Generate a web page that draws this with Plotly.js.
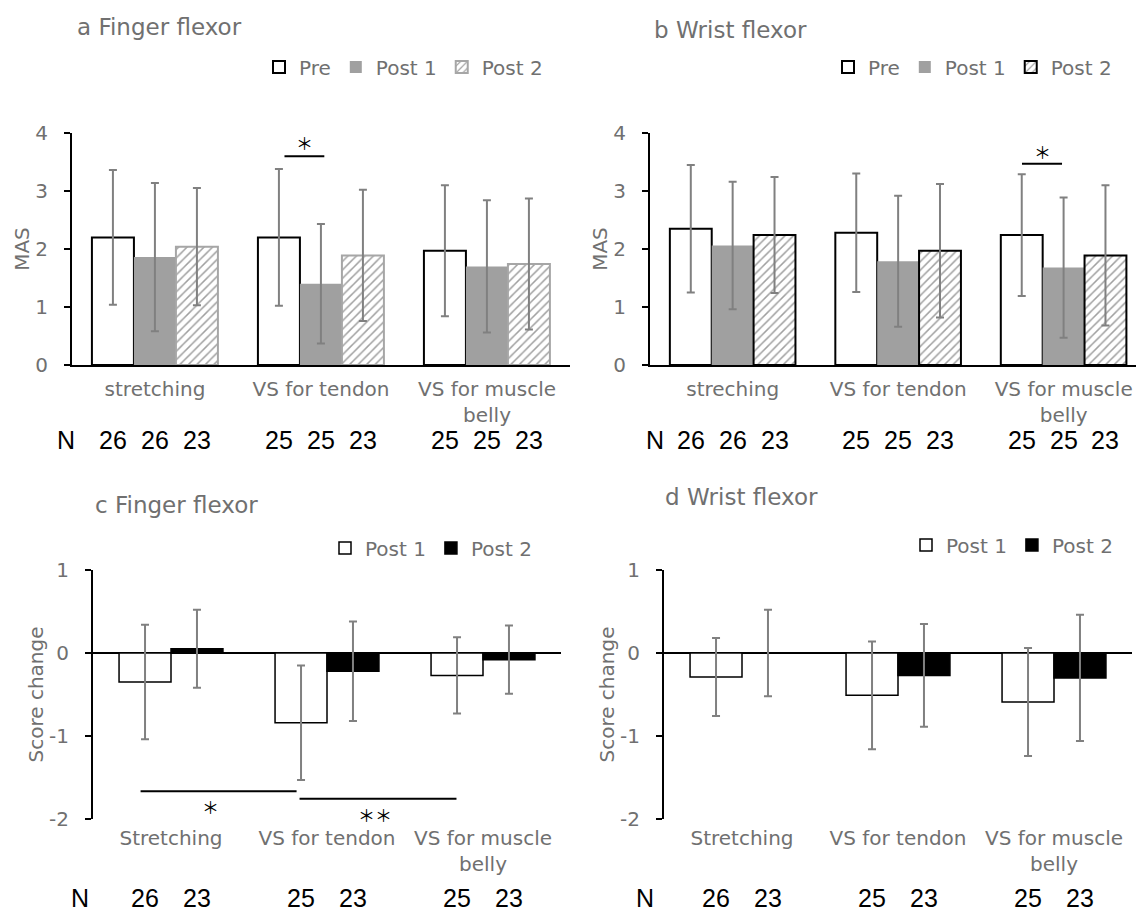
<!DOCTYPE html>
<html>
<head>
<meta charset="utf-8">
<script src="https://cdn.plot.ly/plotly-3.0.1.min.js"></script>
<style>html,body{margin:0;padding:0;background:#fff;}#chart{width:1136px;height:914px;}</style>
</head>
<body>
<div id="chart"></div>
<script>
// ---------- data ----------
const catsA = ['stretching', 'VS for tendon', 'VS for muscle<br>belly'];
const catsB = ['streching', 'VS for tendon', 'VS for muscle<br>belly'];
const catsCD = ['Stretching', 'VS for tendon', 'VS for muscle<br>belly'];

const seriesAB = ['Pre', 'Post 1', 'Post 2'];
const seriesCD = ['Post 1', 'Post 2'];

// a Finger flexor (MAS)
const aPre = [2.20, 2.20, 1.97];
const aPreSD = [1.16, 1.18, 1.13];
const aPost1 = [1.86, 1.40, 1.70];
const aPost1SD = [1.28, 1.03, 1.14];
const aPost2 = [2.04, 1.89, 1.74];
const aPost2SD = [1.01, 1.13, 1.13];

// b Wrist flexor (MAS)
const bPre = [2.35, 2.28, 2.24];
const bPreSD = [1.10, 1.02, 1.05];
const bPost1 = [2.06, 1.79, 1.68];
const bPost1SD = [1.10, 1.13, 1.21];
const bPost2 = [2.24, 1.97, 1.89];
const bPost2SD = [1.00, 1.15, 1.21];

// c Finger flexor (score change)
const cPost1 = [-0.35, -0.84, -0.27];
const cPost1SD = [0.69, 0.69, 0.46];
const cPost2 = [0.05, -0.22, -0.08];
const cPost2SD = [0.47, 0.60, 0.41];

// d Wrist flexor (score change)
const dPost1 = [-0.29, -0.51, -0.59];
const dPost1SD = [0.47, 0.65, 0.65];
const dPost2 = [0.00, -0.27, -0.30];
const dPost2SD = [0.52, 0.62, 0.76];

// sample sizes
const nPre = [26, 25, 25];
const nPost1 = [26, 25, 25];
const nPost2 = [23, 23, 23];

const titles = ['a Finger flexor', 'b Wrist flexor', 'c Finger flexor', 'd Wrist flexor'];
const yTitles = ['MAS', 'MAS', 'Score change', 'Score change'];
const yTicksAB = [0, 1, 2, 3, 4];
const yTickTextAB = ['0', '1', '2', '3', '4'];
const yTicksCD = [-2, -1, 0, 1];
const yTickTextCD = ['-2', '-1', '0', '1'];

// ---------- style ----------
const W = 1136, H = 914;
const GRAY = '#707070';
const FONT = 'DejaVu Sans';
const NFONT = 'Liberation Sans';
const px = v => v / W;
const py = v => 1 - v / H;

const errStyle = {type: 'data', visible: true, color: '#808080', thickness: 2, width: 4};

const wAB = 0.253, offAB = [-0.38, -0.127, 0.126];
const wCD = 0.333, offCD = [-0.333, 0];

function bar(cats, y, sd, name, ax, legend, marker, off, w) {
  return {
    type: 'bar', x: cats, y: y, name: name,
    xaxis: 'x' + ax, yaxis: 'y' + ax, legend: legend,
    offset: off, width: w, marker: marker,
    error_y: Object.assign({array: sd}, errStyle),
    hoverinfo: 'skip'
  };
}

const preM = {color: '#ffffff', line: {color: '#000000', width: 2}};
const post1M = {color: '#a0a0a0', line: {color: '#a0a0a0', width: 0}};
const post2Ma = {color: '#ffffff', line: {color: '#a6a6a6', width: 2},
  pattern: {shape: '/', fgcolor: '#a0a0a0', bgcolor: '#ffffff', size: 6, solidity: 0.25}};
const post2Mb = {color: '#ffffff', line: {color: '#000000', width: 2},
  pattern: {shape: '/', fgcolor: '#a0a0a0', bgcolor: '#ffffff', size: 6, solidity: 0.25}};
const cdPost1M = {color: '#ffffff', line: {color: '#000000', width: 1.5}};
const cdPost2M = {color: '#000000', line: {color: '#000000', width: 1.5}};

const traces = [
  bar(catsA, aPre, aPreSD, seriesAB[0], '', 'legend', preM, offAB[0], wAB),
  bar(catsA, aPost1, aPost1SD, seriesAB[1], '', 'legend', post1M, offAB[1], wAB),
  bar(catsA, aPost2, aPost2SD, seriesAB[2], '', 'legend', post2Ma, offAB[2], wAB),
  bar(catsB, bPre, bPreSD, seriesAB[0], '2', 'legend2', preM, offAB[0], wAB),
  bar(catsB, bPost1, bPost1SD, seriesAB[1], '2', 'legend2', post1M, offAB[1], wAB),
  bar(catsB, bPost2, bPost2SD, seriesAB[2], '2', 'legend2', post2Mb, offAB[2], wAB),
  bar(catsCD, cPost1, cPost1SD, seriesCD[0], '3', 'legend3', cdPost1M, offCD[0], wCD),
  bar(catsCD, cPost2, cPost2SD, seriesCD[1], '3', 'legend3', cdPost2M, offCD[1], wCD),
  bar(catsCD, dPost1, dPost1SD, seriesCD[0], '4', 'legend4', cdPost1M, offCD[0], wCD),
  bar(catsCD, dPost2, dPost2SD, seriesCD[1], '4', 'legend4', cdPost2M, offCD[1], wCD)
];

const tickFont = {family: FONT, size: 20, color: GRAY};

function xAxis(dom, yname, range, cats, showline) {
  return {
    domain: dom, anchor: yname, type: 'category', categoryorder: 'array', categoryarray: cats,
    range: range, showline: showline, linecolor: '#000', linewidth: 2,
    ticks: '', showgrid: false, zeroline: false, tickfont: tickFont,
    ticklabelstandoff: 5, fixedrange: true
  };
}
function yAxis(dom, xname, range, tv, tt, title, zl) {
  return {
    domain: dom, anchor: xname, range: range, tickvals: tv, ticktext: tt,
    showline: true, linecolor: '#000', linewidth: 2,
    ticks: 'outside', ticklen: 6, tickwidth: 2, tickcolor: '#000',
    showgrid: false, zeroline: zl, zerolinecolor: '#000', zerolinewidth: 1.5,
    tickfont: tickFont, ticklabelstandoff: 12,
    title: {text: title, font: {family: FONT, size: 20, color: GRAY}, standoff: 0},
    fixedrange: true
  };
}

function legendAt(xr, yc) {
  return {orientation: 'h', x: px(xr), y: py(yc), xanchor: 'right', yanchor: 'middle',
    font: {family: FONT, size: 20, color: GRAY}, bgcolor: 'rgba(0,0,0,0)',
    itemwidth: 30, traceorder: 'normal', itemclick: false, itemdoubleclick: false};
}

const annotations = [];
const titlePos = [[75, 27], [652, 30], [93, 505], [663, 497]];
titles.forEach((t, i) => annotations.push({
  text: t, xref: 'paper', yref: 'paper', x: px(titlePos[i][0]), y: py(titlePos[i][1]),
  xanchor: 'left', yanchor: 'middle', showarrow: false,
  font: {family: FONT, size: 23, color: GRAY}
}));

// N rows
const nFont = {family: NFONT, size: 25, color: '#000'};
const nLabelPos = [[66, 440], [655, 440], [80, 898], [645, 898]];
nLabelPos.forEach(p => annotations.push({
  text: 'N', xref: 'paper', yref: 'paper', x: px(p[0]), y: py(p[1]),
  xanchor: 'center', yanchor: 'middle', showarrow: false, font: nFont
}));
function nRow(ax, nList, offs, w, yc) {
  nList.forEach((arr, s) => arr.forEach((n, i) => annotations.push({
    text: String(n), xref: 'x' + ax, yref: 'paper', x: i + offs[s] + w / 2, y: py(yc),
    xanchor: 'center', yanchor: 'middle', showarrow: false, font: nFont
  })));
}
nRow('', [nPre, nPost1, nPost2], offAB, wAB, 440);
nRow('2', [nPre, nPost1, nPost2], offAB, wAB, 440);
nRow('3', [nPost1, nPost2], offCD, wCD, 898);
nRow('4', [nPost1, nPost2], offCD, wCD, 898);

// significance marks
const starFont = {family: 'Noto Sans CJK JP', size: 17, color: '#000'};
const sig = [
  {ax: '', x0: 0.78, x1: 1.02, y: 3.6, sx: 0.9, sy: 3.83, t: '＊'},
  {ax: '2', x0: 1.748, x1: 1.99, y: 3.47, sx: 1.87, sy: 3.68, t: '＊'},
  {ax: '3', x0: -0.195, x1: 0.805, y: -1.665, sx: 0.25, sy: -1.85, t: '＊'},
  {ax: '3', x0: 0.824, x1: 1.83, y: -1.755, sx: 1.31, sy: -1.94, t: '＊＊'}
];
const shapes = [];
sig.forEach(s => {
  shapes.push({type: 'line', xref: 'x' + s.ax, yref: 'y' + s.ax, x0: s.x0, x1: s.x1, y0: s.y, y1: s.y,
    line: {color: '#000', width: 2}});
  annotations.push({text: s.t, xref: 'x' + s.ax, yref: 'y' + s.ax, x: s.sx, y: s.sy,
    xanchor: 'center', yanchor: 'middle', showarrow: false, font: starFont});
});

const layout = {
  width: W, height: H, margin: {l: 0, r: 0, t: 0, b: 0},
  paper_bgcolor: '#fff', plot_bgcolor: 'rgba(0,0,0,0)',
  barmode: 'overlay', showlegend: true,
  xaxis: xAxis([px(72), px(570)], 'y', [-0.5, 2.5], catsA, true),
  yaxis: yAxis([py(365), py(133)], 'x', [0, 4], yTicksAB, yTickTextAB, yTitles[0], false),
  xaxis2: xAxis([px(650), 1], 'y2', [-0.5, 2.437], catsB, true),
  yaxis2: yAxis([py(365), py(133)], 'x2', [0, 4], yTicksAB, yTickTextAB, yTitles[1], false),
  xaxis3: xAxis([px(93), px(561)], 'y3', [-0.5, 2.5], catsCD, false),
  yaxis3: yAxis([py(819), py(570)], 'x3', [-2, 1], yTicksCD, yTickTextCD, yTitles[2], true),
  xaxis4: xAxis([px(664), px(1132)], 'y4', [-0.5, 2.5], catsCD, false),
  yaxis4: yAxis([py(819), py(570)], 'x4', [-2, 1], yTicksCD, yTickTextCD, yTitles[3], true),
  legend: legendAt(548, 67),
  legend2: legendAt(1117, 67),
  legend3: legendAt(537, 548),
  legend4: legendAt(1118, 545),
  annotations: annotations,
  shapes: shapes
};

Plotly.newPlot('chart', traces, layout, {staticPlot: true, displayModeBar: false});
</script>
</body>
</html>
